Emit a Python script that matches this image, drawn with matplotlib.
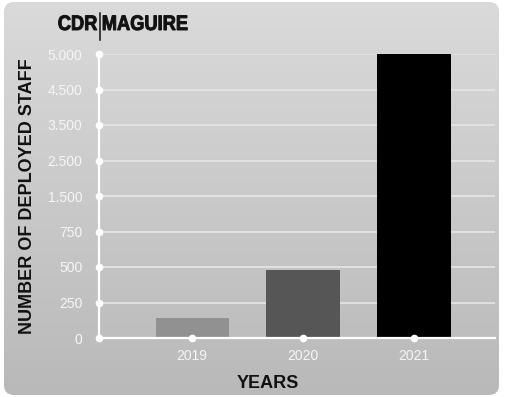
import numpy as np
import matplotlib.pyplot as plt
from matplotlib.colors import LinearSegmentedColormap
from matplotlib.font_manager import FontProperties
from matplotlib.patches import FancyBboxPatch, PathPatch
from matplotlib.scale import FuncScale
from matplotlib.textpath import TextPath
from matplotlib.transforms import Affine2D

years = ["2019", "2020", "2021"]
staff = [140, 480, 5000]
bar_colors = ["#919191", "#565656", "#000000"]
y_ticks = [0, 250, 500, 750, 1500, 2500, 3500, 4500, 5000]
y_tick_labels = ["0", "250", "500", "750", "1.500", "2.500", "3.500", "4.500", "5.000"]

plt.rcParams["font.family"] = ["Liberation Sans", "DejaVu Sans"]

fig = plt.figure(figsize=(5.06, 3.97), dpi=100)
fig.patch.set_facecolor("white")

# rounded grey gradient panel, drawn in pixel coordinates
bg = fig.add_axes([0, 0, 1, 1], zorder=-1)
bg.set_xlim(0, 506)
bg.set_ylim(397, 0)
bg.axis("off")
grad = np.linspace(0, 1, 256).reshape(-1, 1)
cmap = LinearSegmentedColormap.from_list("g", ["#dadada", "#b9b9b9"])
img = bg.imshow(grad, cmap=cmap, extent=[4, 499, 395, 2], aspect="auto")
panel = FancyBboxPatch((4, 2), 495, 393, boxstyle="round,pad=0,rounding_size=10",
                       transform=bg.transData, facecolor="none", edgecolor="none")
bg.add_patch(panel)
img.set_clip_path(panel)

ax = fig.add_axes([99 / 506, 59 / 397, 396 / 506, 284 / 397])
ax.set_facecolor("none")

idx = np.arange(len(y_ticks))
ax.set_yscale(FuncScale(ax.yaxis, (lambda v: np.interp(v, y_ticks, idx),
                                   lambda i: np.interp(i, idx, y_ticks))))
ax.set_ylim(0, 5000)

x = np.arange(len(years))
ax.bar(x, staff, width=0.66, color=bar_colors, zorder=3)
ax.set_xlim(-0.84, 2.73)

for v in y_ticks[1:]:
    ax.axhline(v, color="#e4e4e4", lw=1.3, zorder=1)

for s in ["top", "right"]:
    ax.spines[s].set_visible(False)
for s in ["left", "bottom"]:
    ax.spines[s].set_color("white")
    ax.spines[s].set_linewidth(1.6)
    ax.spines[s].set_zorder(4)

ax.set_yticks(y_ticks)
ax.set_yticklabels(y_tick_labels)
ax.set_xticks(x)
ax.set_xticklabels(years)
ax.tick_params(axis="both", length=0, labelsize=10, labelcolor="#f6f6f6")
ax.tick_params(axis="y", pad=12)
ax.tick_params(axis="x", pad=8)

# white dots on the axes
ax.plot(np.full(len(y_ticks), -0.84), y_ticks, "o", color="white", ms=4.5,
        clip_on=False, zorder=5)
ax.plot(x, np.zeros(len(x)), "o", color="white", ms=4.5, clip_on=False, zorder=5)

fig.text(268 / 506, 1 - 383.5 / 397, "YEARS", ha="center", va="center",
         fontsize=13, fontweight="bold", color="#111111")
fig.text(27.5 / 506, 1 - 196 / 397, "NUMBER OF DEPLOYED STAFF", rotation=90,
         ha="center", va="center", fontsize=13, fontweight="bold", color="#111111")

# logo: condensed bold text built from paths
logo_font = FontProperties(family="Liberation Sans", weight="bold")


def logo_word(word, x_anchor, align):
    tp = TextPath((0, 0), word, size=21, prop=logo_font)
    ext = tp.get_extents()
    sx = 0.87
    w = ext.x1 * sx
    x0 = x_anchor - w if align == "right" else x_anchor - ext.x0 * sx
    tr = Affine2D().scale(sx, -1).translate(x0, 30)
    bg.add_patch(PathPatch(tr.transform_path(tp), facecolor="#111111",
                           edgecolor="#111111", lw=0.7))


logo_word("CDR", 97, "right")
logo_word("MAGUIRE", 103, "left")
bg.plot([100, 100], [13, 40], color="#111111", lw=1.1)

fig.savefig("out.png", dpi=100)
